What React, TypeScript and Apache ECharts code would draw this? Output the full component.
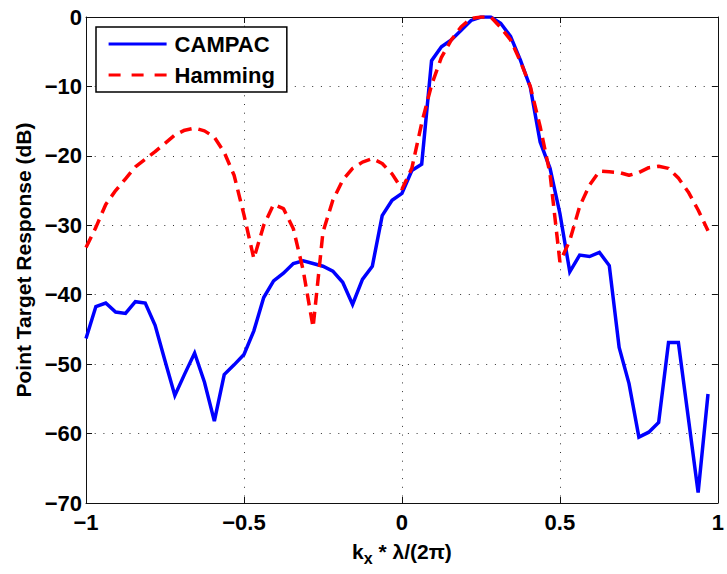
import React, { useEffect, useRef } from "react";
import * as echarts from "echarts";

// spatial frequency samples  kx * lambda / (2 pi)
const KX = [
  -1.0, -0.96875, -0.9375, -0.90625, -0.875, -0.84375, -0.8125, -0.78125,
  -0.75, -0.71875, -0.6875, -0.65625, -0.625, -0.59375, -0.5625, -0.53125,
  -0.5, -0.46875, -0.4375, -0.40625, -0.375, -0.34375, -0.3125, -0.28125,
  -0.25, -0.21875, -0.1875, -0.15625, -0.125, -0.09375, -0.0625, -0.03125,
  0.0, 0.03125, 0.0625, 0.09375, 0.125, 0.15625, 0.1875, 0.21875,
  0.25, 0.28125, 0.3125, 0.34375, 0.375, 0.40625, 0.4375, 0.46875,
  0.5, 0.53125, 0.5625, 0.59375, 0.625, 0.65625, 0.6875, 0.71875,
  0.75, 0.78125, 0.8125, 0.84375, 0.875, 0.90625, 0.9375, 0.96875,
];

// CAMPAC point target response (dB)
const CAMPAC = [
  -46.3, -41.7, -41.2, -42.5, -42.7, -41.0, -41.2, -44.4,
  -49.5, -54.5, -51.4, -48.4, -52.6, -58.2, -51.5, -50.1,
  -48.6, -45.2, -40.4, -38.0, -36.9, -35.5, -35.1, -35.5,
  -35.9, -36.6, -38.2, -41.4, -37.8, -35.9, -28.6, -26.4,
  -25.4, -22.1, -21.2, -6.3, -4.3, -3.3, -1.9, -0.5,
  0.0, 0.0, -0.9, -2.8, -6.2, -10.1, -18.0, -21.8,
  -28.3, -36.7, -34.3, -34.5, -33.9, -35.8, -47.6, -52.8,
  -60.5, -59.8, -58.4, -46.9, -46.9, -57.7, -68.5, -54.3,
];

// Hamming-window point target response (dB)
const HAMMING = [
  -33.2, -30.3, -27.0, -25.0, -23.3, -21.6, -20.5, -19.4,
  -18.2, -17.0, -16.3, -16.0, -16.4, -17.3, -19.5, -22.8,
  -28.5, -34.8, -30.0, -27.0, -27.6, -30.5, -36.5, -44.7,
  -31.0, -26.4, -23.5, -21.8, -20.9, -20.4, -21.1, -22.6,
  -24.8, -21.8, -15.3, -9.8, -5.8, -3.3, -1.4, -0.2,
  0.0, 0.0, -1.5, -3.3, -6.4, -10.0, -15.8, -22.6,
  -35.3, -32.2, -27.3, -24.2, -22.2, -22.3, -22.4, -22.8,
  -22.4, -21.7, -21.5, -21.8, -23.2, -25.2, -27.8, -30.8,
];

const SERIES_NAMES = ["CAMPAC", "Hamming"];
const X_TICKS = { min: -1, max: 1, interval: 0.5 };
const Y_TICKS = { min: -70, max: 0, interval: 10 };

const FONT = "'Liberation Sans', Arial, Helvetica, sans-serif";

const fmt = (v: number) => String(v).replace("-", "\u2212");

export default function App() {
  const ref = useRef<HTMLDivElement>(null);

  useEffect(() => {
    if (!ref.current) return;
    const chart = echarts.init(ref.current, undefined, { renderer: "svg" });

    const gridLine = { show: true, lineStyle: { color: "#333", width: 1, type: [1, 7.7] } };
    const axisLine = { show: true, onZero: false, lineStyle: { color: "#111", width: 1 } };
    const tick = { show: true, inside: true, length: 6, lineStyle: { color: "#111", width: 1 } };
    const labelStyle = { fontFamily: FONT, fontWeight: "bold" as const, fontSize: 22, color: "#000" };

    chart.setOption({
      animation: false,
      backgroundColor: "#fff",
      grid: { left: 86, right: 6, top: 17, bottom: 71, containLabel: false },
      legend: {
        orient: "vertical",
        left: 96,
        top: 27,
        backgroundColor: "#fff",
        borderColor: "#000",
        borderWidth: 1.5,
        borderRadius: 0,
        padding: [4, 12, 4, 11],
        itemGap: 5,
        itemWidth: 58,
        itemHeight: 14,
        itemStyle: { opacity: 0, borderWidth: 0 },
        lineStyle: { width: 3.2 },
        textStyle: { ...labelStyle, fontSize: 22, lineHeight: 26, padding: [0, 0, 0, 3] },
        data: [
          { name: SERIES_NAMES[0] },
          { name: SERIES_NAMES[1], lineStyle: { type: [12, 11] } },
        ],
      },
      xAxis: [
        {
          type: "value",
          position: "bottom",
          min: X_TICKS.min,
          max: X_TICKS.max,
          interval: X_TICKS.interval,
          axisLine,
          axisTick: tick,
          splitLine: gridLine,
          axisLabel: { ...labelStyle, margin: 8, formatter: (v: number) => fmt(v) },
          name: "{b|k}{s|x}{b| * \u03bb/(2\u03c0)}",
          nameLocation: "middle",
          nameGap: 33,
          nameTextStyle: {
            rich: {
              b: { fontFamily: FONT, fontWeight: "bold", fontSize: 21, color: "#000" },
              s: { fontFamily: FONT, fontWeight: "bold", fontSize: 16, color: "#000", padding: [14, 0, 0, 0] },
            },
          },
        },
        {
          type: "value",
          position: "top",
          min: X_TICKS.min,
          max: X_TICKS.max,
          interval: X_TICKS.interval,
          axisLine,
          axisTick: tick,
          splitLine: { show: false },
          axisLabel: { show: false },
        },
      ],
      yAxis: [
        {
          type: "value",
          position: "left",
          min: Y_TICKS.min,
          max: Y_TICKS.max,
          interval: Y_TICKS.interval,
          axisLine,
          axisTick: tick,
          splitLine: gridLine,
          axisLabel: { ...labelStyle, margin: 4, formatter: (v: number) => fmt(v) },
          name: "Point Target Response (dB)",
          nameLocation: "middle",
          nameGap: 52,
          nameRotate: 90,
          nameTextStyle: { fontFamily: FONT, fontWeight: "bold", fontSize: 21, color: "#000" },
        },
        {
          type: "value",
          position: "right",
          min: Y_TICKS.min,
          max: Y_TICKS.max,
          interval: Y_TICKS.interval,
          axisLine,
          axisTick: tick,
          splitLine: { show: false },
          axisLabel: { show: false },
        },
      ],
      series: [
        {
          name: SERIES_NAMES[0],
          type: "line",
          xAxisIndex: 0,
          yAxisIndex: 0,
          symbol: "none",
          data: KX.map((x, i) => [x, CAMPAC[i]]),
          lineStyle: { color: "#0000ff", width: 3.5, join: "miter" },
          itemStyle: { color: "#0000ff" },
          z: 2,
        },
        {
          name: SERIES_NAMES[1],
          type: "line",
          xAxisIndex: 0,
          yAxisIndex: 0,
          symbol: "none",
          data: KX.map((x, i) => [x, HAMMING[i]]),
          lineStyle: { color: "#ff0000", width: 3.5, type: [12, 7] },
          itemStyle: { color: "#ff0000" },
          z: 3,
        },
      ],
    });

    return () => chart.dispose();
  }, []);

  return <div ref={ref} style={{ width: 727, height: 574, position: "absolute", left: 0, top: 0 }} />;
}
